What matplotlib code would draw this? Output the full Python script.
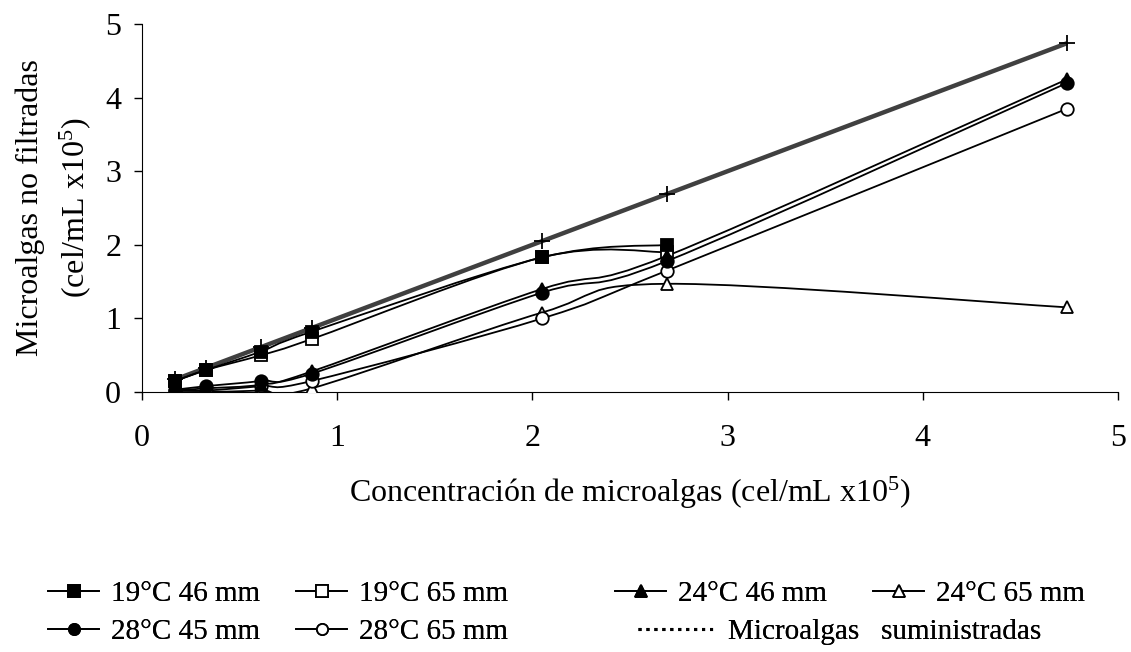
import matplotlib
matplotlib.use("Agg")
import matplotlib.pyplot as plt
from matplotlib.path import Path
from matplotlib.patches import PathPatch
from matplotlib.lines import Line2D
import numpy as np

plt.rcParams['font.family'] = ['Liberation Serif', 'DejaVu Serif']
plt.rcParams['mathtext.fontset'] = 'custom'
plt.rcParams['mathtext.rm'] = 'Liberation Serif'
plt.rcParams['mathtext.it'] = 'Liberation Serif:italic'

# concentracion de microalgas (cel/mL x10^5)
conc = [0.17, 0.33, 0.61, 0.87, 2.05, 2.69, 4.74]

t19_46 = [0.15, 0.30, 0.55, 0.82, 1.83, 2.00]
t19_65 = [0.15, 0.30, 0.50, 0.72, 1.83, 1.90]
t24_46 = [0.02, 0.05, 0.10, 0.28, 1.40, 1.85, 4.25]
t24_65 = [0.00, 0.00, 0.02, 0.05, 1.08, 1.47, 1.15]
t28_45 = [0.03, 0.08, 0.15, 0.25, 1.35, 1.78, 4.20]
t28_65 = [0.02, 0.02, 0.08, 0.15, 1.00, 1.65, 3.85]
suministradas = [0.17, 0.33, 0.61, 0.87, 2.05, 2.69, 4.74]


def smooth_path(xs, ys):
    # curva suavizada (Bezier cubica por tramos)
    p = np.column_stack([xs, ys])
    n = len(p)
    verts = [p[0]]
    codes = [Path.MOVETO]
    for i in range(n - 1):
        p0 = p[i - 1] if i > 0 else p[i]
        p3 = p[i + 2] if i + 2 < n else p[i + 1]
        c1 = p[i] + (p[i + 1] - p0) / 6
        c2 = p[i + 1] - (p3 - p[i]) / 6
        verts += [c1, c2, p[i + 1]]
        codes += [Path.CURVE4] * 3
    return Path(verts, codes)


W, H = 1131, 652
fig = plt.figure(figsize=(W / 100, H / 100), dpi=100)
ax = fig.add_axes([142 / W, 1 - 392 / H, 976 / W, 368 / H])

series = [
    (t19_46, 's', 'black', '19°C 46 mm'),
    (t19_65, 's', 'white', '19°C 65 mm'),
    (t24_46, '^', 'black', '24°C 46 mm'),
    (t24_65, '^', 'white', '24°C 65 mm'),
    (t28_45, 'o', 'black', '28°C 45 mm'),
    (t28_65, 'o', 'white', '28°C 65 mm'),
]

# linea de microalgas suministradas
ax.add_patch(PathPatch(smooth_path(conc, suministradas), fill=False,
                       edgecolor='#404040', lw=3.2, zorder=2))
ax.plot(conc, suministradas, ls='none', marker='+', ms=11, mew=1.3,
        color='black', zorder=5)

handles = []
for ys, mk, fc, lab in series:
    xs = conc[:len(ys)]
    ax.add_patch(PathPatch(smooth_path(xs, ys), fill=False,
                           edgecolor='black', lw=1.3, zorder=3))
    z = 4 if fc == 'white' else 4.5
    ax.plot(xs, ys, ls='none', marker=mk, ms=9, mfc=fc, mec='black',
            mew=1.3, zorder=z)
    handles.append(Line2D([], [], color='black', lw=1.3, marker=mk, ms=8,
                          mfc=fc, mec='black', mew=1.3, label=lab))

sup_handle = Line2D([], [], color='black', lw=2.2, ls=(0, (1.0, 1.6)),
                    label='Microalgas   suministradas')

ax.set_xlim(0, 5)
ax.set_ylim(0, 5)
ax.set_xticks(range(6))
ax.set_yticks(range(6))
ax.spines['top'].set_visible(False)
ax.spines['right'].set_visible(False)
ax.tick_params(axis='both', direction='out', length=6, width=1, labelsize=23)
ax.tick_params(axis='x', pad=17)
ax.tick_params(axis='y', pad=9)
ax.set_xlabel('Concentración de microalgas (cel/mL x10$^{5}$)', fontsize=23)
ax.xaxis.set_label_coords(0.5, -0.225)
ax.set_ylabel('Microalgas no filtradas\n(cel/mL x10$^{5}$)', fontsize=23,
              linespacing=1.45)
ax.yaxis.set_label_coords(-0.05, 0.5)

# leyenda en dos filas, cada entrada en su sitio
rows = [594, 632]
slots = [
    (handles[0], 48, rows[0], 1.75),
    (handles[1], 296, rows[0], 1.75),
    (handles[2], 615, rows[0], 1.75),
    (handles[3], 873, rows[0], 1.75),
    (handles[4], 48, rows[1], 1.75),
    (handles[5], 296, rows[1], 1.75),
    (sup_handle, 638, rows[1], 2.7),
]
for h, x0, y0, hl in slots:
    leg = fig.legend(handles=[h], loc='center left',
                     bbox_to_anchor=(x0 / W, 1 - y0 / H), frameon=False,
                     fontsize=21, handlelength=hl, handletextpad=0.4,
                     borderpad=0, borderaxespad=0)
    fig.add_artist(leg)

fig.savefig('out.png', dpi=100)
